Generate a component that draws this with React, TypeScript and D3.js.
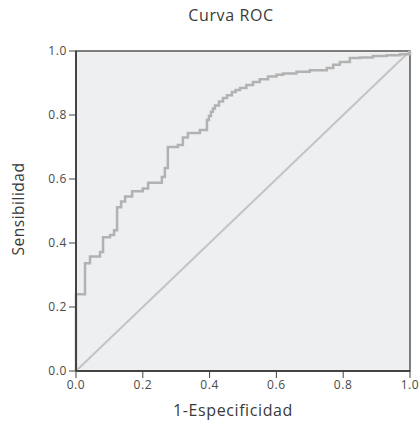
import React from 'react';
import * as d3 from 'd3';

// ROC points (1-specificity, sensitivity), each point is the top of a vertical step
const fpr = [0, 0, 0.027, 0.042, 0.072, 0.081, 0.102, 0.114, 0.123, 0.135, 0.147, 0.168, 0.2, 0.216, 0.257, 0.266, 0.275, 0.305, 0.32, 0.335, 0.371, 0.392, 0.398, 0.404, 0.41, 0.416, 0.428, 0.44, 0.452, 0.467, 0.478, 0.491, 0.51, 0.53, 0.55, 0.575, 0.6, 0.62, 0.66, 0.7, 0.751, 0.77, 0.79, 0.82, 0.85, 0.889, 0.93, 0.97, 1];
const tpr = [0, 0.24, 0.337, 0.358, 0.372, 0.418, 0.425, 0.44, 0.512, 0.53, 0.545, 0.562, 0.57, 0.588, 0.606, 0.634, 0.7, 0.706, 0.73, 0.744, 0.753, 0.784, 0.797, 0.81, 0.82, 0.83, 0.842, 0.853, 0.862, 0.872, 0.878, 0.884, 0.894, 0.903, 0.912, 0.92, 0.926, 0.93, 0.935, 0.94, 0.947, 0.957, 0.966, 0.978, 0.98, 0.984, 0.987, 0.99, 1];
const ticks = [0, 0.2, 0.4, 0.6, 0.8, 1.0];

const W = 419;
const H = 423;
const margin = { top: 51, right: 9, bottom: 52, left: 76 };
const font = '"Open Sans", "Noto Sans", sans-serif';

const App = () => {
  const iw = W - margin.left - margin.right;
  const ih = H - margin.top - margin.bottom;
  const x = d3.scaleLinear().domain([0, 1]).range([0, iw]);
  const y = d3.scaleLinear().domain([0, 1]).range([ih, 0]);

  const pts = fpr.map((f, i) => [f, tpr[i]] as [number, number]);
  const roc = d3
    .line<[number, number]>()
    .x((d) => x(d[0]))
    .y((d) => y(d[1]))
    .curve(d3.curveStepAfter)(pts);
  const diag = d3
    .line<[number, number]>()
    .x((d) => x(d[0]))
    .y((d) => y(d[1]))([[0, 0], [1, 1]]);

  return (
    <svg width={W} height={H} style={{ position: 'absolute', left: 0, top: 0, background: '#fff' }} fontFamily={font}>
      <text x={231} y={21} textAnchor="middle" fontSize={16} letterSpacing={0.6} fill="#3a3a3a">Curva ROC</text>
      <g transform={`translate(${margin.left},${margin.top})`}>
        <rect x={0} y={0} width={iw} height={ih} fill="#eeeff0" stroke="#555" strokeWidth={1.5} />
        <path d={diag ?? ''} fill="none" stroke="#c4c4c4" strokeWidth={2} />
        <path d={roc ?? ''} fill="none" stroke="#b2b2b2" strokeWidth={2.5} />
        <line x1={0} x2={0} y1={0} y2={ih} stroke="#444" strokeWidth={2} />
        <line x1={0} x2={iw} y1={ih} y2={ih} stroke="#444" strokeWidth={2} />
        {ticks.map((t) => (
          <g key={'y' + t}>
            <line x1={-7} x2={0} y1={y(t)} y2={y(t)} stroke="#444" strokeWidth={1} />
            <text x={-9} y={y(t)} dy="0.35em" textAnchor="end" fontSize={12} letterSpacing={0.6} fill="#4a4a4a">{t.toFixed(1)}</text>
          </g>
        ))}
        {ticks.map((t) => (
          <g key={'x' + t}>
            <line x1={x(t)} x2={x(t)} y1={ih} y2={ih + 7} stroke="#444" strokeWidth={1} />
            <text x={x(t)} y={ih + 18} textAnchor="middle" fontSize={12} letterSpacing={0.6} fill="#4a4a4a">{t.toFixed(1)}</text>
          </g>
        ))}
      </g>
      <text x={233} y={416} textAnchor="middle" fontSize={16} letterSpacing={0.6} fill="#3a3a3a">1-Especificidad</text>
      <text transform={`translate(24,${margin.top + ih / 2 - 2}) rotate(-90)`} textAnchor="middle" fontSize={15.5} letterSpacing={0.5} fill="#3a3a3a">Sensibilidad</text>
    </svg>
  );
};

export default App;
